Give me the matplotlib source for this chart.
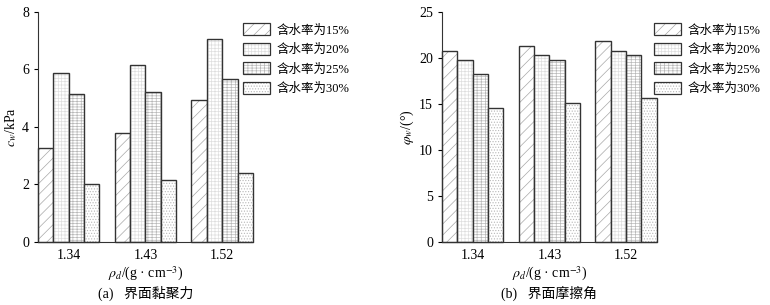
import matplotlib
matplotlib.use("Agg")
import matplotlib.pyplot as plt
import numpy as np

plt.rcParams['font.family'] = ['Liberation Serif', 'Noto Sans CJK SC']
plt.rcParams['mathtext.fontset'] = 'stix'
plt.rcParams['hatch.linewidth'] = 0.5

densities = ['1.34', '1.43', '1.52']
moisture = ['含水率为15%', '含水率为20%', '含水率为25%', '含水率为30%']

# interface cohesion c_w (kPa), one list per moisture content
cohesion = [
    [3.28, 3.78, 4.94],
    [5.87, 6.14, 7.07],
    [5.14, 5.20, 5.66],
    [2.00, 2.16, 2.39],
]
# interface friction angle phi_w (deg)
friction = [
    [20.8, 21.3, 21.8],
    [19.8, 20.3, 20.8],
    [18.3, 19.8, 20.3],
    [14.6, 15.1, 15.6],
]

hatches = ['///', '+++++', '++++--', '......']
hatch_colors = ['#a8a8a8', '#dedede', '#b8b8b8', '#b8b8b8']
edge = '#333333'
width = 0.2


def draw_panel(ax, data, ylim, yticks, ylabel, caption, leg_x):
    x = np.arange(len(densities))
    for i, vals in enumerate(data):
        pos = x - 0.3 + i * width
        ax.bar(pos, vals, width, color='white', hatch=hatches[i],
               edgecolor=hatch_colors[i], linewidth=0)
        ax.bar(pos, vals, width, color='none', edgecolor=edge, linewidth=1.0,
               clip_on=False)
    # legend handles: hatched fill with outline on top
    handles = []
    for i in range(len(moisture)):
        fill = plt.Rectangle((0, 0), 1, 1, facecolor='white', hatch=hatches[i],
                             edgecolor=hatch_colors[i], linewidth=0)
        box = plt.Rectangle((0, 0), 1, 1, facecolor='none', edgecolor=edge,
                            linewidth=0.9)
        handles.append((fill, box))
    ax.legend(handles, moisture, loc='upper left', bbox_to_anchor=(leg_x, 0.95),
              frameon=False, fontsize=9, handlelength=2.2, handleheight=1.1,
              handletextpad=0.5, labelspacing=0.5, borderaxespad=0,
              borderpad=0)
    ax.set_xlim(-0.4, 2.4)
    ax.set_ylim(*ylim)
    ax.set_yticks(yticks)
    ax.set_xticks(x)
    ax.set_xticklabels(densities)
    ax.tick_params(axis='x', length=0, labelsize=10, pad=5)
    ax.tick_params(axis='y', direction='out', length=3, labelsize=10)
    for s in ['top', 'right']:
        ax.spines[s].set_visible(False)
    ax.spines['left'].set_color(edge)
    ax.spines['bottom'].set_color(edge)
    ax.set_ylabel(ylabel, fontsize=10, labelpad=2)
    ax.set_xlabel(r'$\rho_d$/(g · cm$^{-3}$)', fontsize=10, labelpad=2)
    ax.text(0.5, -0.19, caption, transform=ax.transAxes, ha='center', va='top',
            fontsize=10)


fig = plt.figure(figsize=(7.7, 3.05), dpi=100)
ax1 = fig.add_axes([0.0494, 0.207, 0.279, 0.754])
ax2 = fig.add_axes([0.574, 0.207, 0.279, 0.754])

draw_panel(ax1, cohesion, (0, 8), [0, 2, 4, 6, 8], r'$c_w$/kPa', '(a)   界面黏聚力', 0.953)
draw_panel(ax2, friction, (0, 25), [0, 5, 10, 15, 20, 25], r'$\varphi_w$/(°)', '(b)   界面摩擦角', 0.986)

fig.savefig('out.png', dpi=100)
